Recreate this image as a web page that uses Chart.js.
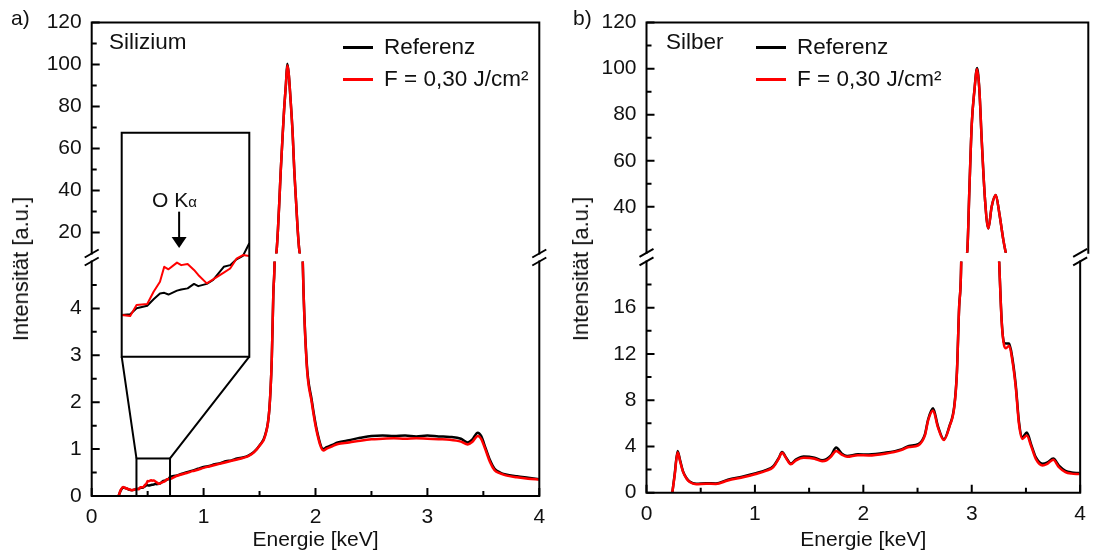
<!DOCTYPE html>
<html lang="de">
<head>
<meta charset="UTF-8">
<title>EDX-Spektren Silizium / Silber</title>
<script src="https://cdn.jsdelivr.net/npm/chart.js"></script>
<style>
  body { margin: 0; background: #fff; font-family: 'Liberation Sans', Arial, sans-serif; color: #111; }
  #wrap { position: relative; width: 1095px; height: 553px; overflow: hidden; }
  canvas { position: absolute; left: 0; top: 0; }
  .lbl { position: absolute; font-size: 21px; line-height: 21px; white-space: nowrap; }
  .big { font-size: 22.5px; }
  .ytitle { position: absolute; font-size: 22px; line-height: 22px; white-space: nowrap;
            transform: translate(-50%, -50%) rotate(-90deg); }
  .legend { position: absolute; font-size: 22.5px; }
  .legend .row { display: flex; align-items: center; height: 32px; white-space: nowrap; }
  .legend .sw { width: 30px; height: 3px; margin-right: 11px; }
</style>
</head>
<body>
<div id="wrap">
  <canvas id="aUp" width="1095" height="553"></canvas>
  <canvas id="aLow" width="1095" height="553"></canvas>
  <canvas id="bUp" width="1095" height="553"></canvas>
  <canvas id="bLow" width="1095" height="553"></canvas>
  <canvas id="inset" width="1095" height="553"></canvas>

  <div class="lbl" style="left:11px;top:7px">a)</div>
  <div class="lbl" style="left:573px;top:7px">b)</div>
  <div class="lbl big" style="left:109px;top:31px">Silizium</div>
  <div class="lbl big" style="left:666px;top:31px">Silber</div>
  <div class="ytitle" style="left:21px;top:269px">Intensität [a.u.]</div>
  <div class="ytitle" style="left:581px;top:269px">Intensität [a.u.]</div>
  <div class="lbl" style="left:152px;top:189px">O K<span style="font-size:15px">α</span></div>
  <div class="legend" id="legA" style="left:343px;top:31px"></div>
  <div class="legend" id="legB" style="left:756px;top:31px"></div>
</div>

<script>
// ---- Daten: a) Silizium ----
const siEnergy = [0.24, 0.26, 0.28, 0.30, 0.33, 0.36, 0.40, 0.42, 0.435, 0.46, 0.475, 0.49, 0.50, 0.51, 0.53, 0.54,
  0.555, 0.57, 0.58, 0.60, 0.615, 0.64, 0.655, 0.67, 0.685, 0.70, 0.75, 0.80, 0.85, 0.90, 0.95, 1.00, 1.05, 1.10,
  1.15, 1.20, 1.25, 1.30, 1.35, 1.40, 1.45, 1.50, 1.55, 1.587, 1.609, 1.623, 1.638, 1.653, 1.665, 1.677, 1.69, 1.707,
  1.72, 1.736, 1.748, 1.76, 1.775, 1.796, 1.81, 1.826, 1.84, 1.855, 1.87, 1.886, 1.92, 1.966, 2.016, 2.07, 2.10,
  2.15, 2.20, 2.30, 2.40, 2.50, 2.60, 2.70, 2.80, 2.90, 3.00, 3.10, 3.20, 3.30, 3.36, 3.40, 3.45, 3.48, 3.52, 3.56,
  3.60, 3.65, 3.70, 3.80, 3.90, 4.00];
const siRef = [0, 0.12, 0.18, 0.17, 0.14, 0.125, 0.149, 0.152, 0.173, 0.182, 0.205, 0.226, 0.228, 0.222, 0.236, 0.24,
  0.244, 0.26, 0.252, 0.26, 0.274, 0.321, 0.327, 0.348, 0.36, 0.405, 0.43, 0.47, 0.51, 0.54, 0.58, 0.62, 0.64, 0.68,
  0.70, 0.74, 0.76, 0.80, 0.82, 0.86, 0.94, 1.08, 1.30, 1.83, 2.9, 4.3, 5.6, 11.7, 22, 35, 50, 67,
  79, 91, 100.4, 96, 85, 67, 50, 35, 22, 11.7, 7.5, 5.0, 2.9, 2.05, 1.36, 1.0, 1.04,
  1.09, 1.14, 1.19, 1.24, 1.28, 1.29, 1.28, 1.29, 1.27, 1.29, 1.27, 1.26, 1.22, 1.14, 1.2, 1.35, 1.28, 1.02, 0.76,
  0.58, 0.5, 0.46, 0.42, 0.39, 0.36];
const siF = [0, 0.13, 0.19, 0.17, 0.145, 0.125, 0.149, 0.145, 0.185, 0.188, 0.232, 0.268, 0.321, 0.312, 0.336, 0.327,
  0.331, 0.31, 0.292, 0.262, 0.276, 0.30, 0.315, 0.35, 0.363, 0.36, 0.42, 0.46, 0.49, 0.53, 0.56, 0.60, 0.63, 0.66,
  0.69, 0.72, 0.75, 0.78, 0.81, 0.85, 0.93, 1.07, 1.28, 1.83, 2.9, 4.3, 5.6, 11.7, 22, 35, 50, 67,
  79, 91, 99.6, 96, 85, 67, 50, 35, 22, 11.7, 7.5, 5.0, 2.85, 2.0, 1.32, 0.97, 1.01,
  1.06, 1.11, 1.14, 1.18, 1.21, 1.22, 1.23, 1.22, 1.23, 1.22, 1.21, 1.20, 1.16, 1.10, 1.15, 1.28, 1.22, 0.98, 0.72,
  0.55, 0.48, 0.44, 0.40, 0.37, 0.35];

// ---- Daten: b) Silber ----
const agEnergy = [0.238, 0.26, 0.287, 0.31, 0.337, 0.37, 0.398, 0.458, 0.55, 0.64, 0.75, 0.90, 1.00, 1.10, 1.17,
  1.22, 1.25, 1.29, 1.33, 1.38, 1.45, 1.55, 1.62, 1.66, 1.70, 1.75, 1.80, 1.85, 1.95, 2.05, 2.20, 2.35, 2.42, 2.507,
  2.568, 2.598, 2.643, 2.688, 2.743, 2.794, 2.839, 2.863, 2.884, 2.905, 2.923, 2.945, 2.969, 2.993, 3.014, 3.035,
  3.065, 3.095, 3.125, 3.162, 3.195, 3.231, 3.255, 3.276, 3.297, 3.315, 3.345, 3.375, 3.406, 3.436, 3.466, 3.508,
  3.547, 3.592, 3.653, 3.698, 3.752, 3.804, 3.864, 3.92, 3.985];
const agRef = [0, 1.6, 3.6, 2.8, 1.85, 1.25, 0.97, 0.78, 0.82, 0.8, 1.12, 1.42, 1.66, 1.95, 2.3,
  3.0, 3.52, 3.0, 2.52, 2.88, 3.12, 3.02, 2.8, 2.9, 3.2, 3.9, 3.4, 3.18, 3.32, 3.3, 3.45, 3.75, 4.05, 4.2,
  5.05, 6.35, 7.3, 5.75, 4.62, 5.75, 7.5, 10.4, 16.1, 21.2, 47, 76, 90.6, 100.3, 90.6, 69,
  43, 30.6, 40, 45.1, 37, 25.5, 19.5, 14.9, 13.0, 12.9, 12.9, 11.6, 9.3, 6.1, 4.8, 5.2,
  4.2, 3.05, 2.5, 2.62, 2.95, 2.35, 1.9, 1.75, 1.7];
const agF = [0, 1.5, 3.5, 2.7, 1.8, 1.2, 0.93, 0.74, 0.78, 0.76, 1.06, 1.36, 1.6, 1.88, 2.22,
  2.95, 3.46, 2.94, 2.45, 2.8, 3.02, 2.94, 2.72, 2.8, 3.1, 3.6, 3.3, 3.1, 3.24, 3.22, 3.37, 3.68, 3.95, 4.1,
  4.95, 6.25, 7.1, 5.65, 4.55, 5.7, 7.4, 10.3, 16.1, 21.2, 47, 76, 90.6, 99.7, 90.6, 69,
  43, 30.6, 40, 45.1, 37, 25.5, 19.5, 14.8, 12.8, 12.5, 12.7, 11.4, 9.1, 5.9, 4.65, 4.95,
  4.05, 2.9, 2.35, 2.5, 2.85, 2.2, 1.78, 1.65, 1.62];

// ---- Achsen ----
const xMajor = [0, 1, 2, 3, 4];
const xMinor = [0.5, 1.5, 2.5, 3.5];
const aUpMajor = [20, 40, 60, 80, 100, 120];
const aUpMinor = [30, 50, 70, 90, 110];
const aLowMajor = [0, 1, 2, 3, 4];
const aLowMinor = [0.5, 1.5, 2.5, 3.5, 4.5];
const bUpMajor = [40, 60, 80, 100, 120];
const bUpMinor = [30, 50, 70, 90, 110];
const bLowMajor = [0, 4, 8, 12, 16];
const bLowMinor = [2, 6, 10, 14, 18];
const seriesLabels = ['Referenz', 'F = 0,30 J/cm²'];
const seriesColors = ['#000000', '#ff0000'];

const W = 1095, H = 553, Y_W = 60;
Chart.defaults.font.family = "'Liberation Sans', Arial, sans-serif";
Chart.defaults.font.size = 21;
Chart.defaults.color = '#111';

// Rahmen + nach innen zeigende Ticks
const framePlugin = {
  id: 'frame',
  beforeDatasetsDraw(chart, args, opts) {
    if (!opts.fill) return;
    const a = chart.chartArea, ctx = chart.ctx;
    ctx.save();
    ctx.fillStyle = '#fff';
    ctx.fillRect(a.left, a.top, a.right - a.left, a.bottom - a.top);
    ctx.restore();
  },
  afterDraw(chart, args, opts) {
    const {ctx, chartArea: a, scales: {x, y}} = chart;
    ctx.save();
    ctx.strokeStyle = '#000';
    ctx.lineWidth = 2;
    ctx.lineCap = 'square';
    ctx.beginPath();
    ctx.moveTo(a.left, a.top); ctx.lineTo(a.left, a.bottom);
    ctx.moveTo(a.right, a.top); ctx.lineTo(a.right, a.bottom);
    if (opts.top) { ctx.moveTo(a.left, a.top); ctx.lineTo(a.right, a.top); }
    if (opts.bottom) { ctx.moveTo(a.left, a.bottom); ctx.lineTo(a.right, a.bottom); }
    ctx.stroke();
    ctx.lineCap = 'butt';
    ctx.beginPath();
    if (opts.yTicks) {
      y.ticks.forEach(t => { const p = y.getPixelForValue(t.value); ctx.moveTo(a.left, p); ctx.lineTo(a.left + 8, p); });
      (opts.yMinor || []).forEach(v => { const p = y.getPixelForValue(v); ctx.moveTo(a.left, p); ctx.lineTo(a.left + 5, p); });
    }
    if (opts.xTicks) {
      x.ticks.forEach(t => { const p = x.getPixelForValue(t.value); ctx.moveTo(p, a.bottom); ctx.lineTo(p, a.bottom - 8); });
      (opts.xMinor || []).forEach(v => { const p = x.getPixelForValue(v); ctx.moveTo(p, a.bottom); ctx.lineTo(p, a.bottom - 5); });
    }
    ctx.stroke();
    // Achsenbruch
    if (opts.gap) {
      ctx.beginPath();
      [a.left, a.right].forEach(x0 => {
        [a.top - opts.gap, a.top].forEach(y0 => {
          ctx.moveTo(x0 - 7, y0 + 4); ctx.lineTo(x0 + 7, y0 - 4);
        });
      });
      ctx.stroke();
    }
    ctx.restore();
  }
};

// Zoom-Rahmen und Verbindungslinien zum Einsatz
const zoomPlugin = {
  id: 'zoomBox',
  afterDraw(chart, args, opts) {
    if (!opts.box) return;
    const {ctx, scales: {x, y}} = chart;
    const b = opts.box, t = opts.target;
    const l = x.getPixelForValue(b.x0), r = x.getPixelForValue(b.x1);
    const tp = y.getPixelForValue(b.y1), bt = y.getPixelForValue(b.y0);
    ctx.save();
    ctx.strokeStyle = '#000';
    ctx.lineWidth = 2;
    ctx.strokeRect(l, tp, r - l, bt - tp);
    ctx.beginPath();
    ctx.moveTo(l, tp); ctx.lineTo(t.left, t.bottom);
    ctx.moveTo(r, tp); ctx.lineTo(t.right, t.bottom);
    ctx.stroke();
    ctx.restore();
  }
};

// Pfeil im Einsatz (O K-alpha)
const arrowPlugin = {
  id: 'arrow',
  afterDraw(chart, args, opts) {
    if (!opts.at) return;
    const {ctx, scales: {x, y}} = chart;
    const px = x.getPixelForValue(opts.at), y0 = y.getPixelForValue(opts.from), y1 = y.getPixelForValue(opts.to);
    ctx.save();
    ctx.strokeStyle = '#000';
    ctx.fillStyle = '#000';
    ctx.lineWidth = 2;
    ctx.beginPath();
    ctx.moveTo(px, y0); ctx.lineTo(px, y1 - 9);
    ctx.stroke();
    ctx.beginPath();
    ctx.moveTo(px - 7.5, y1 - 11); ctx.lineTo(px + 7.5, y1 - 11); ctx.lineTo(px, y1);
    ctx.closePath();
    ctx.fill();
    ctx.restore();
  }
};

function spectrum(E, ref, f, width) {
  return [ref, f].map((vals, i) => ({
    label: seriesLabels[i],
    data: E.map((e, k) => ({x: e, y: vals[k]})),
    borderColor: seriesColors[i],
    borderWidth: width,
    order: 1 - i
  }));
}

function makeChart(id, o) {
  const xH = o.showX ? H - o.area.bottom : 0;
  const yW = o.showY ? Y_W : 0;
  return new Chart(document.getElementById(id), {
    type: 'line',
    data: {datasets: o.datasets},
    options: {
      responsive: false,
      animation: false,
      events: [],
      elements: {
        point: {radius: 0},
        line: {cubicInterpolationMode: 'monotone', borderJoinStyle: 'round', borderCapStyle: 'round'}
      },
      layout: {
        autoPadding: false,
        padding: {left: o.area.left - yW, right: W - o.area.right, top: o.area.top, bottom: H - o.area.bottom - xH}
      },
      scales: {
        x: {
          type: 'linear', min: 0, max: 4, display: o.showX,
          grid: {display: false, drawTicks: false, tickLength: 0}, border: {display: false},
          afterBuildTicks: s => { s.ticks = xMajor.map(v => ({value: v})); },
          afterFit: s => { s.height = xH; },
          ticks: {padding: 9, maxRotation: 0, autoSkip: false},
          title: {display: true, text: 'Energie [keV]', padding: {top: 0, bottom: 0}}
        },
        y: {
          type: 'linear', min: o.yMin, max: o.yMax, display: o.showY,
          grid: {display: false, drawTicks: false, tickLength: 0}, border: {display: false},
          afterBuildTicks: s => { s.ticks = o.yMajor.map(v => ({value: v})); },
          afterFit: s => { s.width = yW; },
          ticks: {padding: 10, autoSkip: false}
        }
      },
      plugins: {
        legend: {display: false},
        tooltip: {enabled: false},
        frame: o.frame,
        zoomBox: o.zoom || {},
        arrow: o.arrow || {}
      }
    },
    plugins: [framePlugin, zoomPlugin, arrowPlugin]
  });
}

const insetArea = {left: 121.7, right: 249.3, top: 132.7, bottom: 356.7};

const aUp = makeChart('aUp', {
  area: {left: 91.7, right: 539.3, top: 20.5, bottom: 253.5},
  datasets: spectrum(siEnergy, siRef, siF, 2.5),
  yMin: 10, yMax: 120, yMajor: aUpMajor, showX: false, showY: true,
  frame: {top: true, yTicks: true, yMinor: aUpMinor}
});
makeChart('aLow', {
  area: {left: 91.7, right: 539.3, top: 261.5, bottom: 496},
  datasets: spectrum(siEnergy, siRef, siF, 2.5),
  yMin: 0, yMax: 5, yMajor: aLowMajor, showX: true, showY: true,
  frame: {bottom: true, yTicks: true, yMinor: aLowMinor, xTicks: true, xMinor: xMinor, gap: 8},
  zoom: {box: {x0: 0.4, x1: 0.7, y0: 0, y1: 0.8}, target: insetArea}
});
const bUp = makeChart('bUp', {
  area: {left: 646.5, right: 1088.3, top: 22, bottom: 252.8},
  datasets: spectrum(agEnergy, agRef, agF, 2.5),
  yMin: 20, yMax: 120, yMajor: bUpMajor, showX: false, showY: true,
  frame: {top: true, yTicks: true, yMinor: bUpMinor}
});
makeChart('bLow', {
  area: {left: 646.5, right: 1088.3, top: 261.4, bottom: 492.7},
  datasets: spectrum(agEnergy, agRef, agF, 2.5),
  yMin: 0, yMax: 20, yMajor: bLowMajor, showX: true, showY: true,
  frame: {bottom: true, yTicks: true, yMinor: bLowMinor, xTicks: true, xMinor: xMinor, gap: 8.6}
});
// Einsatz: Ausschnitt 0,4-0,7 keV
new Chart(document.getElementById('inset'), {
  type: 'line',
  data: {datasets: spectrum(siEnergy, siRef, siF, 2)},
  options: {
    responsive: false, animation: false, events: [],
    elements: {point: {radius: 0}, line: {tension: 0, borderJoinStyle: 'round'}},
    layout: {autoPadding: false, padding: {left: insetArea.left, right: W - insetArea.right, top: insetArea.top, bottom: H - insetArea.bottom}},
    scales: {
      x: {type: 'linear', min: 0.4, max: 0.7, display: false},
      y: {type: 'linear', min: 0, max: 0.8, display: false}
    },
    plugins: {
      legend: {display: false}, tooltip: {enabled: false},
      frame: {top: true, bottom: true, fill: true},
      zoomBox: {},
      arrow: {at: 0.535, from: 0.518, to: 0.388}
    }
  },
  plugins: [framePlugin, zoomPlugin, arrowPlugin]
});

// HTML-Legenden aus den Datensätzen
function buildLegend(chart, elId) {
  const el = document.getElementById(elId);
  chart.data.datasets.forEach(ds => {
    const row = document.createElement('div');
    row.className = 'row';
    const sw = document.createElement('span');
    sw.className = 'sw';
    sw.style.background = ds.borderColor;
    const tx = document.createElement('span');
    tx.textContent = ds.label;
    row.appendChild(sw);
    row.appendChild(tx);
    el.appendChild(row);
  });
}
buildLegend(aUp, 'legA');
buildLegend(bUp, 'legB');
</script>
</body>
</html>
